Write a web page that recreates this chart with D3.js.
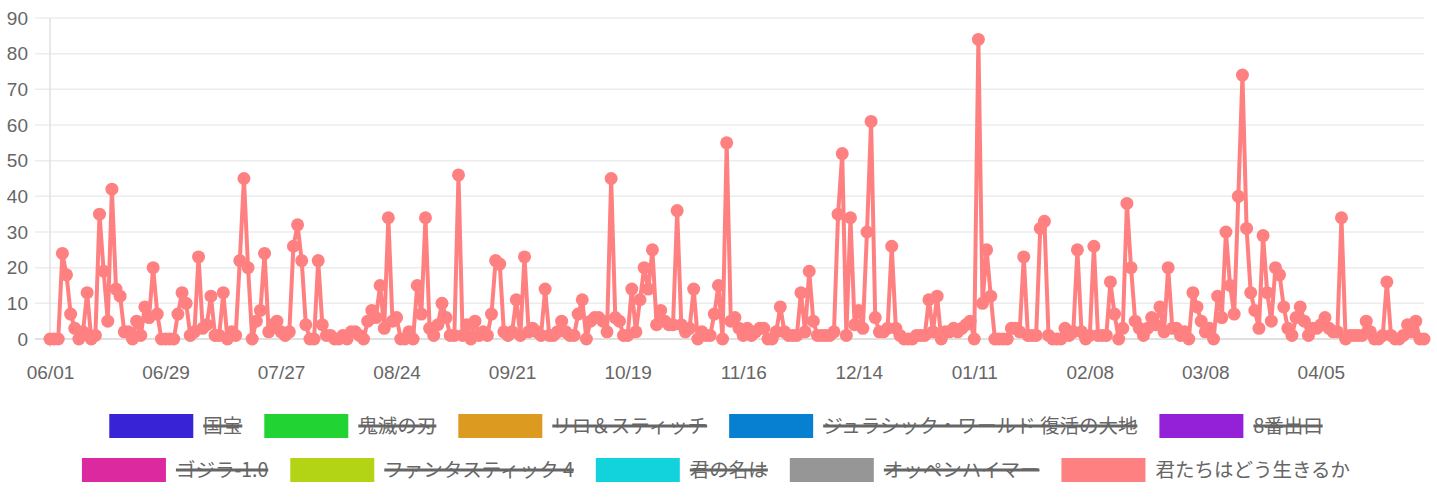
<!DOCTYPE html>
<html>
<head>
<meta charset="utf-8">
<script src="https://cdn.jsdelivr.net/npm/d3@7"></script>
<style>
  body { margin: 0; background: #fff; }
  .tick text { fill: #666; font-family: "Helvetica Neue", Helvetica, Arial, "Liberation Sans", sans-serif; font-size: 19px; }
  .legend text { fill: #666; font-family: "Noto Sans CJK JP", "Noto Sans", sans-serif; font-size: 19.5px; }
</style>
</head>
<body>
<div id="chart"></div>
<script>
// daily counts, 2024-06-01 .. 2025-04-30 (one row = 28 days)
var counts = [
  0,0,0,24,18,7,3,0,2,13,0,1,35,19,5,42,14,12,2,2,0,5,1,9,6,20,7,0,
  0,0,0,7,13,10,1,2,23,3,4,12,1,1,13,0,2,1,22,45,20,0,5,8,24,2,4,5,
  2,1,2,26,32,22,4,0,0,22,4,1,1,0,0,1,0,2,2,1,0,5,8,6,15,3,34,5,
  6,0,0,2,0,15,7,34,3,1,4,10,6,1,1,46,1,4,0,5,1,2,1,7,22,21,2,1,
  2,11,1,23,2,3,2,1,14,1,1,2,5,2,1,1,7,11,0,5,6,6,5,2,45,6,5,1,
  1,14,2,11,20,14,25,4,8,5,4,4,36,4,2,3,14,0,2,1,1,7,15,0,55,5,6,3,
  1,3,1,2,3,3,0,0,2,9,2,1,1,1,13,2,19,5,1,1,1,1,2,35,52,1,34,4,
  8,3,30,61,6,2,2,3,26,3,1,0,0,0,1,1,1,11,2,12,0,2,2,3,2,3,4,5,
  0,84,10,25,12,0,0,0,0,3,3,2,23,1,1,1,31,33,1,0,0,0,3,1,2,25,2,0,
  1,26,1,1,1,16,7,0,3,38,20,5,3,1,3,6,4,9,2,20,3,3,1,2,0,13,9,5,
  2,3,0,12,6,30,15,7,40,74,31,13,8,3,29,13,5,20,18,9,3,1,6,9,5,1,3,3,
  4,6,3,2,2,34,0,1,1,1,1,5,2,0,0,1,16,1,0,0,1,4,2,5,0,0
];

var tickLabels = ["06/01", "06/29", "07/27", "08/24", "09/21", "10/19",
  "11/16", "12/14", "01/11", "02/08", "03/08", "04/05"];

var yTicks = [0, 10, 20, 30, 40, 50, 60, 70, 80, 90];

var seriesNames = ["国宝", "鬼滅の刃", "リロ＆スティッチ", "ジュラシック・ワールド 復活の大地", "8番出口",
  "ゴジラ-1.0", "ファンタスティック 4", "君の名は", "オッペンハイマー", "君たちはどう生きるか"];
var seriesColors = ["#3823d6", "#22d334", "#dc9a20", "#0880d2", "#9421d8",
  "#dc29a0", "#b3d414", "#12d2dc", "#969696", "#ff8080"];
var hiddenSeries = [true, true, true, true, true, true, true, true, true, false];

var W = 1437, H = 500;
var margin = { top: 18, right: 13, bottom: 161, left: 50 };

var dates = d3.timeDay.range(new Date(2024, 5, 1), new Date(2025, 4, 1));
var fmt = d3.timeFormat("%m/%d");
var labels = dates.map(fmt);

var svg = d3.select("#chart").append("svg")
  .attr("width", W)
  .attr("height", H);

var x = d3.scalePoint().domain(labels).range([margin.left, W - margin.right]);
var y = d3.scaleLinear().domain([0, 90]).range([H - margin.bottom, margin.top]);

// grid
svg.append("g").selectAll("line")
  .data(yTicks)
  .enter().append("line")
  .attr("x1", margin.left - 15)
  .attr("x2", W - margin.right)
  .attr("y1", function (d) { return y(d); })
  .attr("y2", function (d) { return y(d); })
  .attr("stroke", function (d) { return d === 0 ? "#d6d6d6" : "#ececec"; })
  .attr("stroke-width", 1.5);

svg.append("line")
  .attr("x1", margin.left).attr("x2", margin.left)
  .attr("y1", margin.top).attr("y2", y(0) + 8)
  .attr("stroke", "#e0e0e0")
  .attr("stroke-width", 1.5);

// axes
var yAxis = svg.append("g")
  .attr("transform", "translate(" + margin.left + ",0)")
  .call(d3.axisLeft(y).tickValues(yTicks).tickSize(0).tickPadding(22));
yAxis.select(".domain").remove();

var xAxis = svg.append("g")
  .attr("transform", "translate(0," + y(0) + ")")
  .call(d3.axisBottom(x).tickValues(tickLabels.filter(function (t) { return labels.indexOf(t) >= 0; })).tickSize(0).tickPadding(27));
xAxis.select(".domain").remove();

// the one visible series
var visIdx = hiddenSeries.indexOf(false);
var lineColor = seriesColors[visIdx];

var line = d3.line()
  .x(function (d, i) { return x(labels[i]); })
  .y(function (d) { return y(d); });

svg.append("path")
  .datum(counts)
  .attr("fill", "none")
  .attr("stroke", lineColor)
  .attr("stroke-width", 4)
  .attr("stroke-linejoin", "round")
  .attr("d", line);

svg.append("g").selectAll("circle")
  .data(counts)
  .enter().append("circle")
  .attr("cx", function (d, i) { return x(labels[i]); })
  .attr("cy", function (d) { return y(d); })
  .attr("r", 6.5)
  .attr("fill", lineColor);

// legend, two rows of five
var legend = svg.append("g").attr("class", "legend");
var rows = [[0, 1, 2, 3, 4], [5, 6, 7, 8, 9]];
var rowY = [426, 470];
var boxW = 84, boxH = 24, boxGap = 10, itemGap = 22, centerX = 716;

rows.forEach(function (row, r) {
  var g = legend.append("g");
  var widths = row.map(function (i) {
    var t = g.append("text").text(seriesNames[i]);
    var w = t.node().getComputedTextLength();
    t.remove();
    return w;
  });
  var total = d3.sum(widths) + row.length * (boxW + boxGap) + (row.length - 1) * itemGap;
  var cx = centerX - total / 2;
  row.forEach(function (i, k) {
    g.append("rect")
      .attr("x", cx).attr("y", rowY[r] - boxH / 2)
      .attr("width", boxW).attr("height", boxH)
      .attr("fill", seriesColors[i]);
    var tx = cx + boxW + boxGap;
    g.append("text")
      .attr("x", tx).attr("y", rowY[r])
      .attr("dy", "0.35em")
      .text(seriesNames[i]);
    if (hiddenSeries[i]) {
      g.append("line")
        .attr("x1", tx).attr("x2", tx + widths[k])
        .attr("y1", rowY[r]).attr("y2", rowY[r])
        .attr("stroke", "#666")
        .attr("stroke-width", 3);
    }
    cx = tx + widths[k] + itemGap;
  });
});
</script>
</body>
</html>
